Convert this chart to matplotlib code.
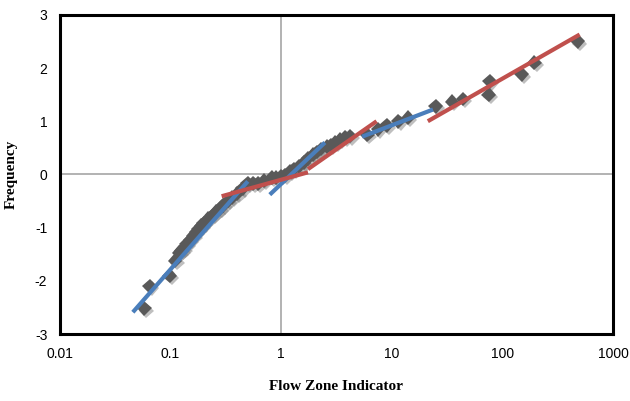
import numpy as np
import matplotlib
matplotlib.use('Agg')
import matplotlib.pyplot as plt
import matplotlib.patheffects as pe

# measured points (Flow Zone Indicator, Frequency)
fzi = [0.058, 0.065, 0.098, 0.11, 0.12, 0.125, 0.13, 0.14, 0.15, 0.16, 0.17, 0.18,
       0.19, 0.2, 0.22, 0.24, 0.26, 0.28, 0.3, 0.33, 0.36, 0.4, 0.45, 0.5, 0.56,
       0.62, 0.7, 0.82, 0.9, 1.0, 1.08, 1.2, 1.3, 1.45, 1.6, 1.75, 1.94, 2.1, 2.3,
       2.6, 2.8, 3.1, 3.4, 3.8, 4.2, 6.0, 7.5, 9.0, 11.5, 14.0, 25.0, 35.0, 44.0,
       75.0, 77.0, 150.0, 195.0, 480.0]
freq = [-2.52, -2.1, -1.9, -1.62, -1.47, -1.43, -1.4, -1.3, -1.23, -1.15, -1.08, -1.02,
        -0.96, -0.92, -0.83, -0.76, -0.7, -0.64, -0.58, -0.5, -0.44, -0.36, -0.26, -0.17, -0.17,
        -0.17, -0.12, -0.06, -0.06, -0.03, -0.02, 0.05, 0.1, 0.15, 0.22, 0.3, 0.37, 0.42, 0.48,
        0.52, 0.55, 0.6, 0.65, 0.7, 0.72, 0.75, 0.85, 0.92, 1.0, 1.07, 1.28, 1.37, 1.42,
        1.5, 1.75, 1.88, 2.1, 2.5]

# fitted segments (start, end)
blue_x = [(0.0457, 0.50), (0.79, 2.49), (5.4, 23.6)]
blue_y = [(-2.59, -0.13), (-0.38, 0.60), (0.71, 1.22)]
red_x = [(0.29, 1.75), (1.75, 7.3), (21.2, 500)]
red_y = [(-0.41, 0.04), (0.10, 1.0), (1.0, 2.63)]

fig = plt.figure(figsize=(6.3, 4.01), dpi=100)
ax = fig.add_axes([0.095, 0.167, 0.878, 0.796])

ax.axhline(0, color='#a6a6a6', lw=1.2, zorder=1)
ax.axvline(1, color='#a6a6a6', lw=1.2, zorder=1)

ax.plot(fzi, freq, 'D', color='#595959', markersize=7.5, markeredgewidth=0, zorder=2,
        path_effects=[pe.SimplePatchShadow(offset=(1.5, -1.5), shadow_rgbFace='#808080', alpha=0.5),
                      pe.Normal()])

for xs, ys in zip(blue_x, blue_y):
    ax.plot(xs, ys, color='#4a7ebb', lw=3, solid_capstyle='butt', zorder=3)
for xs, ys in zip(red_x, red_y):
    ax.plot(xs, ys, color='#c0504d', lw=3, solid_capstyle='butt', zorder=3)

ax.set_xscale('log')
ax.set_xlim(0.01, 1000)
ax.set_ylim(-3, 3)
ax.set_xticks([0.01, 0.1, 1, 10, 100, 1000])
ax.set_xticklabels(['0.01', '0.1', '1', '10', '100', '1000'])
ax.set_yticks([-3, -2, -1, 0, 1, 2, 3])
ax.set_yticklabels(['-3', '-2', '-1', '0', '1', '2', '3'])
ax.minorticks_off()
ax.tick_params(length=0, labelsize=10, pad=9)
for lab in ax.get_xticklabels() + ax.get_yticklabels():
    lab.set_family(['Liberation Sans Narrow', 'Liberation Sans', 'DejaVu Sans'])
for s in ax.spines.values():
    s.set_linewidth(2.2)
    s.set_color('black')

ax.set_xlabel('Flow Zone Indicator', family='Liberation Serif', fontweight='bold', fontsize=11, labelpad=14)
ax.set_ylabel('Frequency', family='Liberation Serif', fontweight='bold', fontsize=11, labelpad=12)

fig.savefig('out.png', dpi=100)
